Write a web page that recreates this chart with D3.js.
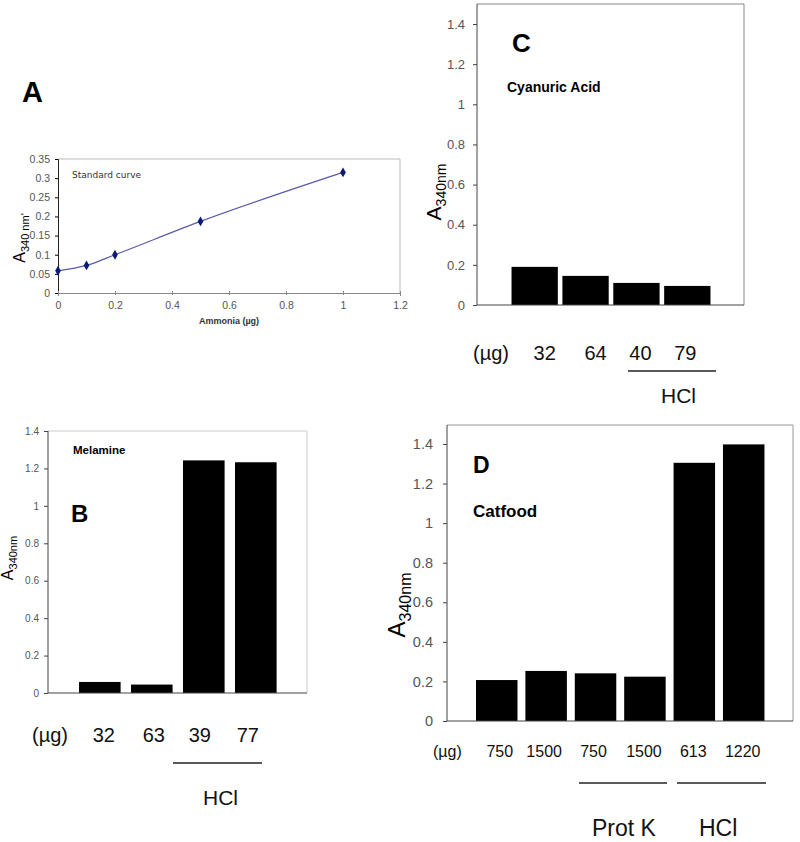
<!DOCTYPE html>
<html><head><meta charset="utf-8">
<script src="https://cdn.jsdelivr.net/npm/d3@7/dist/d3.min.js"></script>
<style>body{margin:0;background:#fff}svg{display:block}</style>
</head><body>
<svg id="c" width="800" height="842"></svg>
<script>
// ---- Data ----
// Panel A: standard curve
const ammonia = [0, 0.1, 0.2, 0.5, 1];
const absA = [0.058, 0.072, 0.1, 0.187, 0.315];
const yTicksA = [0, 0.05, 0.1, 0.15, 0.2, 0.25, 0.3, 0.35];
const xTicksA = [0, 0.2, 0.4, 0.6, 0.8, 1, 1.2];
// Panel B: melamine
const catsB = ["32", "63", "39", "77"];
const valsB = [0.059, 0.045, 1.243, 1.233];
// Panel C: cyanuric acid
const catsC = ["32", "64", "40", "79"];
const valsC = [0.19, 0.145, 0.11, 0.095];
// Panel D: catfood
const catsD = ["750", "1500", "750", "1500", "613", "1220"];
const valsD = [0.207, 0.253, 0.241, 0.224, 1.305, 1.398];
const barTicks = [0, 0.2, 0.4, 0.6, 0.8, 1, 1.2, 1.4];

const svg = d3.select("#c");
const SANS = "Liberation Sans, Arial, sans-serif";

function yLabel(g, x, y, sizeA, sizeSub, sub) {
  const t = g.append("text").attr("transform", `translate(${x},${y}) rotate(-90)`)
    .attr("text-anchor", "middle").attr("font-family", SANS).attr("fill", "#000");
  t.append("tspan").attr("font-size", sizeA).text("A");
  t.append("tspan").attr("font-size", sizeSub).attr("dy", sizeSub * 0.35).text(sub);
}

// ---- Panel A ----
{
  const x = d3.scaleLinear().domain([0, 1.2]).range([58, 400]);
  const y = d3.scaleLinear().domain([0, 0.35]).range([293, 159]);
  const g = svg.append("g");
  g.append("text").attr("x", 22).attr("y", 102).attr("font-family", SANS)
    .attr("font-weight", "bold").attr("font-size", 29).text("A");
  g.append("path").attr("d", `M${x(0)},${y(0.35)}H${x(1.2)}V${y(0)}`)
    .attr("fill", "none").attr("stroke", "#bbb").attr("stroke-width", 1);
  const ya = g.append("g").attr("transform", `translate(${x(0)},0)`)
    .call(d3.axisLeft(y).tickValues(yTicksA).tickSize(3).tickPadding(5).tickFormat(d3.format("~g")));
  ya.select(".domain").attr("stroke", "#222");
  ya.selectAll("text").attr("font-family", SANS).attr("font-size", 10.5).attr("fill", "#555");
  const xa = g.append("g").attr("transform", `translate(0,${y(0)})`)
    .call(d3.axisBottom(x).tickValues(xTicksA).tickSize(3).tickPadding(6).tickFormat(d3.format("~g")));
  xa.select(".domain").attr("stroke", "#888");
  xa.selectAll(".tick line").attr("stroke", "#888").attr("y1", -2).attr("y2", 2);
  xa.selectAll("text").attr("font-family", SANS).attr("font-size", 10.5).attr("fill", "#555");
  const pts = ammonia.map((a, i) => [a, absA[i]]);
  g.append("path").datum(pts)
    .attr("d", d3.line().x(d => x(d[0])).y(d => y(d[1])).curve(d3.curveMonotoneX))
    .attr("fill", "none").attr("stroke", "#5a5aa8").attr("stroke-width", 1.2);
  g.selectAll(".pt").data(pts).join("path")
    .attr("transform", d => `translate(${x(d[0])},${y(d[1])})`)
    .attr("d", d3.symbol(d3.symbolDiamond, 28)).attr("fill", "#0a1a78");
  g.append("text").attr("x", 72).attr("y", 178).attr("font-family", "DejaVu Sans, sans-serif")
    .attr("font-size", 9).attr("fill", "#333").text("Standard curve");
  g.append("text").attr("x", 229).attr("y", 324).attr("text-anchor", "middle")
    .attr("font-family", SANS).attr("font-weight", "bold").attr("font-size", 9).attr("fill", "#333")
    .text("Ammonia (µg)");
  yLabel(g, 25, 238, 16, 11, "340 nm'");
}

function barPanel(o) {
  const g = svg.append("g");
  const y = d3.scaleLinear().domain([0, 1.4]).range([o.y0, o.y14]);
  const x = d3.scaleBand().domain(o.cats.map((c, i) => i)).range(o.xr)
    .paddingInner(o.pi).paddingOuter(o.po);
  g.append("path").attr("d", `M${o.ax},${o.top}H${o.right}V${o.y0}`)
    .attr("fill", "none").attr("stroke", o.frame).attr("stroke-width", 1);
  g.selectAll(".bar").data(o.vals).join("rect")
    .attr("x", (d, i) => x(i)).attr("width", x.bandwidth())
    .attr("y", d => y(d)).attr("height", d => o.y0 - y(d)).attr("fill", "#000");
  const ya = g.append("g").attr("transform", `translate(${o.ax},0)`)
    .call(d3.axisLeft(y).tickValues(barTicks).tickSize(4).tickPadding(o.tp).tickFormat(d3.format("~g")));
  ya.select(".domain").attr("d", `M0,${o.top}V${o.y0}`).attr("stroke", "#444");
  ya.selectAll(".tick line").attr("stroke", "#444");
  ya.selectAll("text").attr("font-family", SANS).attr("font-size", o.tickFs).attr("fill", "#555");
  g.append("line").attr("x1", o.ax).attr("x2", o.right).attr("y1", o.y0).attr("y2", o.y0)
    .attr("stroke", "#444");
  g.append("text").attr("x", o.ugX).attr("y", o.labY).attr("font-family", SANS)
    .attr("font-size", o.labFs).attr("fill", "#111").text("(µg)");
  g.selectAll(".cl").data(o.cats).join("text")
    .attr("x", (d, i) => x(i) + x.bandwidth() / 2 + (o.labDx[i] || 0)).attr("y", o.labY)
    .attr("text-anchor", "middle").attr("font-family", SANS).attr("font-size", o.labFs)
    .attr("fill", "#111").text(d => d);
  o.groups.forEach(gr => {
    g.append("line").attr("x1", gr.x1).attr("x2", gr.x2).attr("y1", gr.ly).attr("y2", gr.ly)
      .attr("stroke", "#222").attr("stroke-width", 1.3);
    g.append("text").attr("x", gr.tx).attr("y", gr.ty).attr("font-family", SANS)
      .attr("font-size", gr.fs).attr("fill", "#111").text(gr.name);
  });
  g.append("text").attr("x", o.letter[0]).attr("y", o.letter[1]).attr("font-family", SANS)
    .attr("font-weight", "bold").attr("font-size", o.letter[2]).text(o.letter[3]);
  g.append("text").attr("x", o.title[0]).attr("y", o.title[1]).attr("font-family", SANS)
    .attr("font-weight", "bold").attr("font-size", o.title[2]).text(o.title[3]);
  yLabel(g, o.yl[0], o.yl[1], o.yl[2], o.yl[3], "340nm");
}

// ---- Panel C ----
barPanel({
  cats: catsC, vals: valsC, ax: 477, y0: 305, y14: 24, top: 4, right: 744,
  xr: [510, 712], pi: 0.09, po: 0.03, frame: "#888", tp: 8, tickFs: 13,
  ugX: 473, labY: 360, labFs: 20, labDx: [10, 10, 4, -2],
  groups: [{x1: 628, x2: 716, ly: 371, tx: 661, ty: 403, fs: 21, name: "HCl"}],
  letter: [512, 52, 26, "C"], title: [507, 92, 14, "Cyanuric Acid"],
  yl: [441, 192, 21, 14]
});

// ---- Panel B ----
barPanel({
  cats: catsB, vals: valsB, ax: 48, y0: 693, y14: 431, top: 431, right: 307,
  xr: [73.8, 281.8], pi: 0.2, po: 0.1, frame: "#ccc", tp: 5, tickFs: 10,
  ugX: 32, labY: 742, labFs: 20, labDx: [4, 2, -4, -8],
  groups: [{x1: 173, x2: 262, ly: 763, tx: 203, ty: 805, fs: 21, name: "HCl"}],
  letter: [71, 522, 24, "B"], title: [73, 454, 11.5, "Melamine"],
  yl: [13, 558, 16, 11]
});

// ---- Panel D ----
barPanel({
  cats: catsD, vals: valsD, ax: 447, y0: 721, y14: 444, top: 425, right: 793,
  xr: [471.06, 769.4], pi: 0.16, po: 0.1, frame: "#999", tp: 10, tickFs: 14.5,
  ugX: 433, labY: 757, labFs: 16, labDx: [3, -2, -2, -1, -1, -1],
  groups: [{x1: 579, x2: 667, ly: 783, tx: 592, ty: 836, fs: 23, name: "Prot K"},
           {x1: 677, x2: 766, ly: 783, tx: 699, ty: 836, fs: 23, name: "HCl"}],
  letter: [473, 473, 23, "D"], title: [473, 517, 17, "Catfood"],
  yl: [405, 605, 24, 16]
});
</script>
</body></html>
